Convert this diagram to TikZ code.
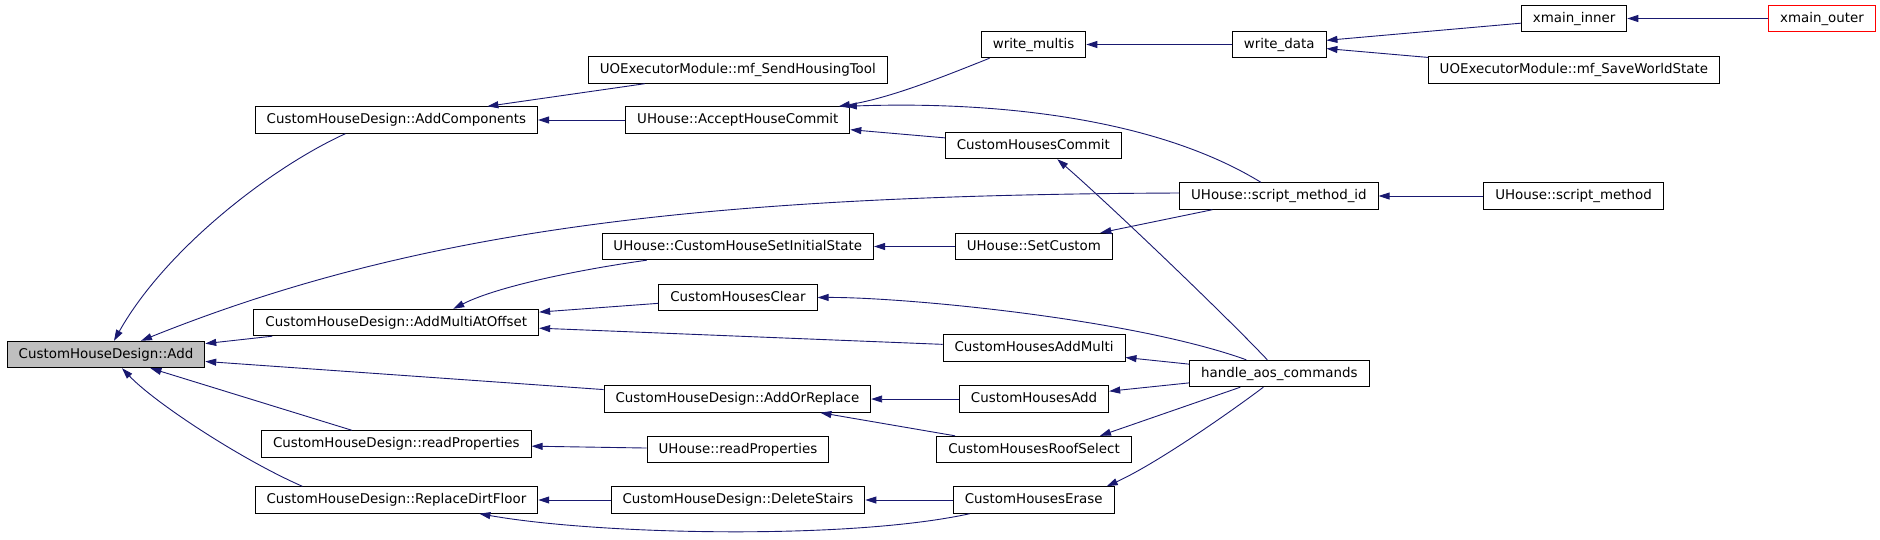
\documentclass[tikz,border=0pt]{standalone}
\usepackage{fontspec}
\setmainfont{DejaVu Sans}
\usepackage{tikz}
\usetikzlibrary{arrows.meta}
\definecolor{edgeBlue}{RGB}{25,25,112}
\definecolor{focusGray}{RGB}{191,191,191}
\definecolor{outerRed}{RGB}{255,0,0}

\begin{document}
\begin{tikzpicture}[x=1pt, y=-1pt,
    every node/.style={font=\fontsize{13.4}{16}\selectfont},
    fn/.style={draw, line width=0.9pt, fill=white, inner xsep=11.5pt, inner ysep=0pt,
      minimum height=26.5pt, text height=10pt, text depth=3pt},
    focus/.style={fn, fill=focusGray},
    outer/.style={fn, draw=outerRed},
    calls/.style={-{Triangle[length=11pt,width=7pt]}, edgeBlue, line width=0.9pt}
  ]
  \useasboundingbox (0,0) rectangle (1880,539);

  % the function itself
  \node[focus] (add) at (106,354.5) {CustomHouseDesign::Add};
  % direct callers
  \node[fn] (addComp) at (396.4,120) {CustomHouseDesign::AddComponents};
  \node[fn] (addMulti) at (396.3,322.5) {CustomHouseDesign::AddMultiAtOffset};
  \node[fn] (chdRead) at (396.4,444) {CustomHouseDesign::readProperties};
  \node[fn] (replaceDirt) at (396.4,500) {CustomHouseDesign::ReplaceDirtFloor};
  % second rank
  \node[fn] (sendTool) at (737.8,70) {UOExecutorModule::mf\_SendHousingTool};
  \node[fn] (acceptCommit) at (737.8,120) {UHouse::AcceptHouseCommit};
  \node[fn] (initState) at (737.8,246.5) {UHouse::CustomHouseSetInitialState};
  \node[fn] (housesClear) at (738,297.5) {CustomHousesClear};
  \node[fn] (addOrReplace) at (737.4,399) {CustomHouseDesign::AddOrReplace};
  \node[fn] (uhRead) at (738,449.5) {UHouse::readProperties};
  \node[fn] (deleteStairs) at (738,500) {CustomHouseDesign::DeleteStairs};
  % third rank
  \node[fn] (writeMultis) at (1033.6,44.5) {write\_multis};
  \node[fn] (housesCommit) at (1033.3,145.5) {CustomHousesCommit};
  \node[fn] (setCustom) at (1033.9,246.5) {UHouse::SetCustom};
  \node[fn] (housesAddMulti) at (1034,348) {CustomHousesAddMulti};
  \node[fn] (housesAdd) at (1034.1,399) {CustomHousesAdd};
  \node[fn] (roofSelect) at (1034,449.5) {CustomHousesRoofSelect};
  \node[fn] (housesErase) at (1033.7,500) {CustomHousesErase};
  % fourth rank and beyond
  \node[fn] (writeData) at (1279.2,44.5) {write\_data};
  \node[fn] (scriptId) at (1278.9,196) {UHouse::script\_method\_id};
  \node[fn] (handleAos) at (1279.3,373.5) {handle\_aos\_commands};
  \node[fn] (xmainInner) at (1574.1,18.5) {xmain\_inner};
  \node[fn] (saveWorld) at (1573.9,70) {UOExecutorModule::mf\_SaveWorldState};
  \node[fn] (scriptMethod) at (1573.6,196) {UHouse::script\_method};
  \node[outer] (xmainOuter) at (1822,18.5) {xmain\_outer};

  % into Add
  \draw[calls] ([xshift=-51pt]addComp.south) .. controls (270,168) and (165,250) .. ([xshift=8pt]add.north);
  \draw[calls] ([yshift=3pt]scriptId.west) .. controls (700,195) and (417,230) .. ([xshift=35pt]add.north);
  \draw[calls] (addMulti) -- (add);
  \draw[calls] (addOrReplace) -- (add);
  \draw[calls] (chdRead) -- (add);
  \draw[calls] ([xshift=-94pt]replaceDirt.north) .. controls (242,460) and (155,403) .. ([xshift=16pt]add.south);
  % into AddComponents and AcceptHouseCommit
  \draw[calls] ([xshift=-93pt]sendTool.south) -- ([xshift=91pt]addComp.north);
  \draw[calls] (acceptCommit) -- (addComp);
  \draw[calls] ([xshift=-44pt]writeMultis.south) .. controls (940,78) and (890,98) .. ([xshift=101pt]acceptCommit.north);
  \draw[calls] ([xshift=-18pt]scriptId.north) .. controls (1156,118) and (996,101) .. ([xshift=108pt]acceptCommit.north);
  \draw[calls] (housesCommit) -- (acceptCommit);
  % write chain
  \draw[calls] (writeData) -- (writeMultis);
  \draw[calls] (xmainInner) -- (writeData);
  \draw[calls] (saveWorld) -- (writeData);
  \draw[calls] (xmainOuter) -- (xmainInner);
  % script method chain
  \draw[calls] (scriptMethod) -- (scriptId);
  \draw[calls] (scriptId) -- (setCustom);
  \draw[calls] (setCustom) -- (initState);
  \draw[calls] ([xshift=-91pt]initState.south) .. controls (590,268) and (500,285) .. ([xshift=57pt]addMulti.north);
  \draw[calls] (housesClear) -- (addMulti);
  \draw[calls] (housesAddMulti) -- (addMulti);
  % handle_aos_commands
  \draw[calls] ([xshift=-12pt]handleAos.north) .. controls (1225,315) and (1110,205) .. ([xshift=24pt]housesCommit.south);
  \draw[calls] ([xshift=-33pt]handleAos.north) .. controls (1130,318) and (900,297) .. (housesClear.east);
  \draw[calls] (handleAos) -- (housesAddMulti);
  \draw[calls] (handleAos) -- (housesAdd);
  \draw[calls] ([xshift=-39pt]handleAos.south) -- ([xshift=66pt]roofSelect.north);
  \draw[calls] ([xshift=-16pt]handleAos.south) .. controls (1240,405) and (1160,462) .. ([xshift=73pt]housesErase.north);
  % lower part
  \draw[calls] (housesAdd) -- (addOrReplace);
  \draw[calls] ([xshift=-79pt]roofSelect.north) -- ([xshift=83pt]addOrReplace.south);
  \draw[calls] (uhRead) -- (chdRead);
  \draw[calls] (deleteStairs) -- (replaceDirt);
  \draw[calls] (housesErase) -- (deleteStairs);
  \draw[calls] ([xshift=-64pt]housesErase.south) .. controls (850,540) and (600,535) .. ([xshift=83pt]replaceDirt.south);
\end{tikzpicture}
\end{document}
